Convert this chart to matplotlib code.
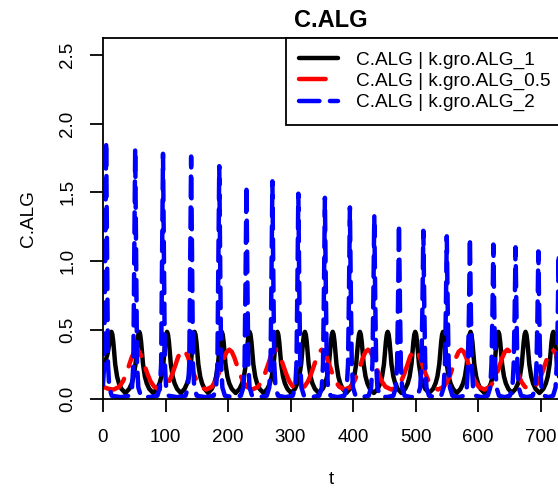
import matplotlib.pyplot as plt

# ---- data (t in days, C.ALG) ----
series_labels = ["C.ALG | k.gro.ALG_1", "C.ALG | k.gro.ALG_0.5", "C.ALG | k.gro.ALG_2"]

black_t = [
    0, 4, 7.5, 10.5, 12, 13.5, 15, 16.5, 19.5, 22.5, 25.5, 29.5, 35.75,
    42, 46, 49, 52, 55, 56.5, 58, 59.5, 61, 64, 67, 70, 74, 80.25,
    86.5, 90.5, 93.5, 96.5, 99.5, 101, 102.5, 104, 105.5, 108.5, 111.5, 114.5, 118.5, 124.5,
    130.5, 134.5, 137.5, 140.5, 143.5, 145, 146.5, 148, 149.5, 152.5, 155.5, 158.5, 162.5, 168.25,
    174, 178, 181, 184, 187, 188.5, 190, 191.5, 193, 196, 199, 202, 206, 212.25,
    218.5, 222.5, 225.5, 228.5, 231.5, 233, 234.5, 236, 237.5, 240.5, 243.5, 246.5, 250.5, 256.75,
    263, 267, 270, 273, 276, 277.5, 279, 280.5, 282, 285, 288, 291, 295, 301,
    307, 311, 314, 317, 320, 321.5, 323, 324.5, 326, 329, 332, 335, 339, 345.25,
    351.5, 355.5, 358.5, 361.5, 364.5, 366, 367.5, 369, 370.5, 373.5, 376.5, 379.5, 383.5, 389.25,
    395, 399, 402, 405, 408, 409.5, 411, 412.5, 414, 417, 420, 423, 427, 433.25,
    439.5, 443.5, 446.5, 449.5, 452.5, 454, 455.5, 457, 458.5, 461.5, 464.5, 467.5, 471.5, 477.5,
    483.5, 487.5, 490.5, 493.5, 496.5, 498, 499.5, 501, 502.5, 505.5, 508.5, 511.5, 515.5, 521.75,
    528, 532, 535, 538, 541, 542.5, 544, 545.5, 547, 550, 553, 556, 560, 566,
    572, 576, 579, 582, 585, 586.5, 588, 589.5, 591, 594, 597, 600, 604, 610.25,
    616.5, 620.5, 623.5, 626.5, 629.5, 631, 632.5, 634, 635.5, 638.5, 641.5, 644.5, 648.5, 654.25,
    660, 664, 667, 670, 673, 674.5, 676, 677.5, 679, 682, 685, 688, 692, 698.25,
    704.5, 708.5, 711.5, 714.5, 717.5, 719, 720.5, 722, 723.5, 726.5, 729.5, 732.5,
]
black_y = [
    0.22, 0.27, 0.33, 0.41, 0.465, 0.485, 0.465, 0.41, 0.25, 0.16, 0.11, 0.07, 0.04,
    0.07, 0.11, 0.16, 0.25, 0.41, 0.465, 0.485, 0.465, 0.41, 0.25, 0.16, 0.11, 0.07, 0.04,
    0.07, 0.11, 0.16, 0.25, 0.41, 0.465, 0.485, 0.465, 0.41, 0.25, 0.16, 0.11, 0.07, 0.04,
    0.07, 0.11, 0.16, 0.25, 0.41, 0.465, 0.485, 0.465, 0.41, 0.25, 0.16, 0.11, 0.07, 0.04,
    0.07, 0.11, 0.16, 0.25, 0.41, 0.465, 0.485, 0.465, 0.41, 0.25, 0.16, 0.11, 0.07, 0.04,
    0.07, 0.11, 0.16, 0.25, 0.41, 0.465, 0.485, 0.465, 0.41, 0.25, 0.16, 0.11, 0.07, 0.04,
    0.07, 0.11, 0.16, 0.25, 0.41, 0.465, 0.485, 0.465, 0.41, 0.25, 0.16, 0.11, 0.07, 0.04,
    0.07, 0.11, 0.16, 0.25, 0.41, 0.465, 0.485, 0.465, 0.41, 0.25, 0.16, 0.11, 0.07, 0.04,
    0.07, 0.11, 0.16, 0.25, 0.41, 0.465, 0.485, 0.465, 0.41, 0.25, 0.16, 0.11, 0.07, 0.04,
    0.07, 0.11, 0.16, 0.25, 0.41, 0.465, 0.485, 0.465, 0.41, 0.25, 0.16, 0.11, 0.07, 0.04,
    0.07, 0.11, 0.16, 0.25, 0.41, 0.465, 0.485, 0.465, 0.41, 0.25, 0.16, 0.11, 0.07, 0.04,
    0.07, 0.11, 0.16, 0.25, 0.41, 0.465, 0.485, 0.465, 0.41, 0.25, 0.16, 0.11, 0.07, 0.04,
    0.07, 0.11, 0.16, 0.25, 0.41, 0.465, 0.485, 0.465, 0.41, 0.25, 0.16, 0.11, 0.07, 0.04,
    0.07, 0.11, 0.16, 0.25, 0.41, 0.465, 0.485, 0.465, 0.41, 0.25, 0.16, 0.11, 0.07, 0.04,
    0.07, 0.11, 0.16, 0.25, 0.41, 0.465, 0.485, 0.465, 0.41, 0.25, 0.16, 0.11, 0.07, 0.04,
    0.07, 0.11, 0.16, 0.25, 0.41, 0.465, 0.485, 0.465, 0.41, 0.25, 0.16, 0.11, 0.07, 0.04,
    0.07, 0.11, 0.16, 0.25, 0.41, 0.465, 0.485, 0.465, 0.41, 0.25, 0.16, 0.11,
]

red_t = [
    0, 9, 17,
    26, 32, 37, 42, 46, 50, 54, 58, 62, 66, 71, 76, 82, 91,
    100, 106, 111, 116, 120, 124, 128, 132, 136, 140, 145, 150, 156, 165,
    174, 180, 185, 190, 194, 198, 202, 206, 210, 214, 219, 224, 230, 239,
    248, 254, 259, 264, 268, 272, 276, 280, 284, 288, 293, 298, 304, 313,
    322, 328, 333, 338, 342, 346, 350, 354, 358, 362, 367, 372, 378, 387,
    396, 402, 407, 412, 416, 420, 424, 428, 432, 436, 441, 446, 452, 461.5,
    471, 477, 482, 487, 491, 495, 499, 503, 507, 511, 516, 521, 527, 536,
    545, 551, 556, 561, 565, 569, 573, 577, 581, 585, 590, 595, 601, 610,
    619, 625, 630, 635, 639, 643, 647, 651, 655, 659, 664, 669, 675, 683,
    691, 697, 702, 707, 711, 715, 719, 723, 727, 731, 736,
]
red_y = [
    0.085, 0.07, 0.065,
    0.085, 0.125, 0.18, 0.245, 0.30, 0.34, 0.355, 0.34, 0.30, 0.245, 0.18, 0.125, 0.085, 0.065,
    0.085, 0.125, 0.18, 0.245, 0.30, 0.34, 0.355, 0.34, 0.30, 0.245, 0.18, 0.125, 0.085, 0.065,
    0.085, 0.125, 0.18, 0.245, 0.30, 0.34, 0.355, 0.34, 0.30, 0.245, 0.18, 0.125, 0.085, 0.065,
    0.085, 0.125, 0.18, 0.245, 0.30, 0.34, 0.355, 0.34, 0.30, 0.245, 0.18, 0.125, 0.085, 0.065,
    0.085, 0.125, 0.18, 0.245, 0.30, 0.34, 0.355, 0.34, 0.30, 0.245, 0.18, 0.125, 0.085, 0.065,
    0.085, 0.125, 0.18, 0.245, 0.30, 0.34, 0.355, 0.34, 0.30, 0.245, 0.18, 0.125, 0.085, 0.065,
    0.085, 0.125, 0.18, 0.245, 0.30, 0.34, 0.355, 0.34, 0.30, 0.245, 0.18, 0.125, 0.085, 0.065,
    0.085, 0.125, 0.18, 0.245, 0.30, 0.34, 0.355, 0.34, 0.30, 0.245, 0.18, 0.125, 0.085, 0.065,
    0.085, 0.125, 0.18, 0.245, 0.30, 0.34, 0.355, 0.34, 0.30, 0.245, 0.18, 0.125, 0.085, 0.065,
    0.085, 0.125, 0.18, 0.245, 0.30, 0.34, 0.355, 0.34, 0.30, 0.245, 0.18,
]

blue_t = [
    0, 2, 3.5, 5, 6.5, 8, 10, 14, 28.25,
    42.5, 46.5, 48.5, 50, 51.5, 53, 54.5, 56.5, 60.5, 73.75,
    87, 91, 93, 94.5, 96, 97.5, 99, 101, 105, 118.5,
    132, 136, 138, 139.5, 141, 142.5, 144, 146, 150, 163.5,
    177, 181, 183, 184.5, 186, 187.5, 189, 191, 195, 207.75,
    220.5, 224.5, 226.5, 228, 229.5, 231, 232.5, 234.5, 238.5, 250.25,
    262, 266, 268, 269.5, 271, 272.5, 274, 276, 280, 291.75,
    303.5, 307.5, 309.5, 311, 312.5, 314, 315.5, 317.5, 321.5, 333.75,
    346, 350, 352, 353.5, 355, 356.5, 358, 360, 364, 375,
    386, 390, 392, 393.5, 395, 396.5, 398, 400, 404, 414.5,
    425, 429, 431, 432.5, 434, 435.5, 437, 439, 443, 453.75,
    464.5, 468.5, 470.5, 472, 473.5, 475, 476.5, 478.5, 482.5, 493,
    503.5, 507.5, 509.5, 511, 512.5, 514, 515.5, 517.5, 521.5, 531.25,
    541, 545, 547, 548.5, 550, 551.5, 553, 555, 559, 568.5,
    578, 582, 584, 585.5, 587, 588.5, 590, 592, 596, 605.75,
    615.5, 619.5, 621.5, 623, 624.5, 626, 627.5, 629.5, 633.5, 642.25,
    651, 655, 657, 658.5, 660, 661.5, 663, 665, 669, 678.25,
    687.5, 691.5, 693.5, 695, 696.5, 698, 699.5, 701.5, 705.5, 712.75,
    720, 724, 726, 727.5, 729, 730.5,
]
blue_y = [
    0.10, 0.25, 1.03, 1.87, 1.03, 0.25, 0.08, 0.02, 0.01,
    0.02, 0.08, 0.25, 1.00, 1.82, 1.00, 0.25, 0.08, 0.02, 0.01,
    0.02, 0.08, 0.25, 0.98, 1.78, 0.98, 0.25, 0.08, 0.02, 0.01,
    0.02, 0.08, 0.25, 0.97, 1.76, 0.97, 0.25, 0.08, 0.02, 0.01,
    0.02, 0.08, 0.25, 0.93, 1.69, 0.93, 0.25, 0.08, 0.02, 0.01,
    0.02, 0.08, 0.25, 0.85, 1.55, 0.85, 0.25, 0.08, 0.02, 0.01,
    0.02, 0.08, 0.25, 0.87, 1.58, 0.87, 0.25, 0.08, 0.02, 0.01,
    0.02, 0.08, 0.25, 0.82, 1.49, 0.82, 0.25, 0.08, 0.02, 0.01,
    0.02, 0.08, 0.25, 0.80, 1.46, 0.80, 0.25, 0.08, 0.02, 0.01,
    0.02, 0.08, 0.25, 0.76, 1.39, 0.76, 0.25, 0.08, 0.02, 0.01,
    0.02, 0.08, 0.25, 0.73, 1.33, 0.73, 0.25, 0.08, 0.02, 0.01,
    0.02, 0.08, 0.25, 0.70, 1.27, 0.70, 0.25, 0.08, 0.02, 0.01,
    0.02, 0.08, 0.25, 0.67, 1.22, 0.67, 0.25, 0.08, 0.02, 0.01,
    0.02, 0.08, 0.25, 0.65, 1.18, 0.65, 0.25, 0.08, 0.02, 0.01,
    0.02, 0.08, 0.25, 0.64, 1.17, 0.64, 0.25, 0.08, 0.02, 0.01,
    0.02, 0.08, 0.25, 0.62, 1.12, 0.62, 0.25, 0.08, 0.02, 0.01,
    0.02, 0.08, 0.25, 0.60, 1.10, 0.60, 0.25, 0.08, 0.02, 0.01,
    0.02, 0.08, 0.25, 0.59, 1.07, 0.59, 0.25, 0.08, 0.02, 0.01,
    0.02, 0.08, 0.25, 0.58, 1.05, 0.58,
]

x_ticks = [0, 100, 200, 300, 400, 500, 600, 700]
y_ticks = [0.0, 0.5, 1.0, 1.5, 2.0, 2.5]
y_ticklabels = ["0.0", "0.5", "1.0", "1.5", "2.0", "2.5"]

### PLOTTING ###
plt.rcParams['font.family'] = ['Liberation Sans', 'DejaVu Sans']
W, H = 558, 490
fig = plt.figure(figsize=(W / 100, H / 100), dpi=100)
# plot region runs slightly past the right edge of the picture, as in the reference
ax = fig.add_axes([103 / W, 1 - 398.5 / H, (559.3 - 103) / W, (398.5 - 38.3) / H])

lw = 3.2
ax.plot(black_t, black_y, color='black', lw=lw, solid_capstyle='round', solid_joinstyle='round', label=series_labels[0])
ax.plot(red_t, red_y, color='#FF0000', lw=lw, dashes=(6.0, 3.0), dash_capstyle='round', dash_joinstyle='round', label=series_labels[1])
ax.plot(blue_t, blue_y, color='#0000FF', lw=lw, dashes=(4.6, 2.35), dash_capstyle='round', dash_joinstyle='round', label=series_labels[2])

ax.set_xlim(0, 730)
ax.set_ylim(0, 2.62)
ax.set_xticks(x_ticks)
ax.set_xticklabels([str(v) for v in x_ticks])
ax.set_yticks(y_ticks)
ax.set_yticklabels(y_ticklabels)
for sp in ax.spines.values():
    sp.set_linewidth(1.3)
ax.tick_params(direction='out', length=9.7, width=1.3, labelsize=13.5, color='black')
ax.tick_params(axis='x', pad=12.2)
ax.tick_params(axis='y', pad=9.4, labelrotation=90)
for lab in ax.get_yticklabels():
    lab.set_va('center')

fig.text(331 / W, 1 - 26.7 / H, "C.ALG", ha='center', va='baseline', fontsize=17, fontweight='bold')
fig.text(331 / W, 1 - 484 / H, "t", ha='center', va='baseline', fontsize=13.7)
fig.text(33 / W, 1 - 218.4 / H, "C.ALG", rotation=90, rotation_mode='anchor', ha='center', va='baseline', fontsize=13.7)

leg = ax.legend(loc='upper right', bbox_to_anchor=((564 - 103) / 456.3, 1.0), borderaxespad=0,
                fancybox=False, framealpha=1, edgecolor='black', fontsize=13.7,
                handlelength=2.04, handletextpad=0.94, borderpad=0.7, labelspacing=0.19)
leg.get_frame().set_linewidth(1.3)

plt.savefig("out.png", dpi=100)
